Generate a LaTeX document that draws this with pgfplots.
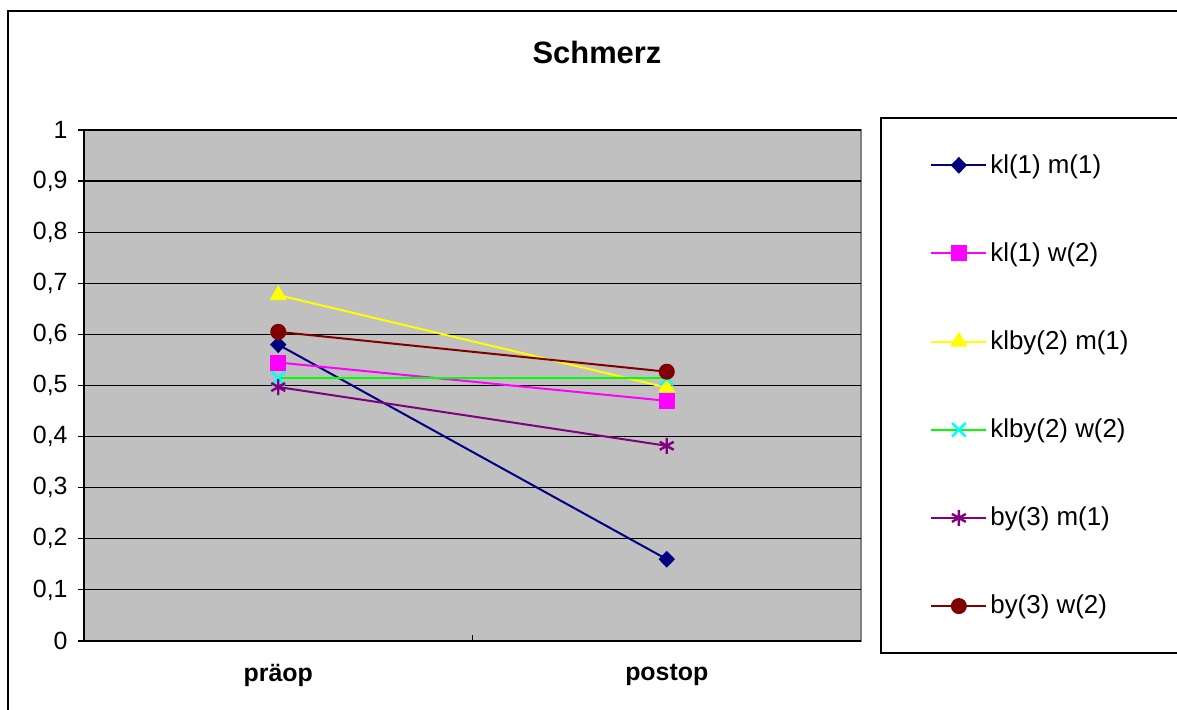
\documentclass[border=0pt]{standalone}
\usepackage{fontspec}
\setmainfont{Liberation Sans}
\usepackage{pgfplots}
\pgfplotsset{compat=1.18}
\definecolor{navyc}{HTML}{000080}
\definecolor{magc}{HTML}{FF00FF}
\definecolor{yelc}{HTML}{FFFF00}
\definecolor{grnc}{HTML}{00FF00}
\definecolor{cyac}{HTML}{00FFFF}
\definecolor{purc}{HTML}{800080}
\definecolor{marc}{HTML}{800000}
\definecolor{bgc}{HTML}{C0C0C0}
\begin{document}
\begin{tikzpicture}
\useasboundingbox (0,0) rectangle (588.5bp,355bp);
\fill[white] (0,0) rectangle (588.5bp,355bp);
\draw[line width=1bp] (4bp,-10bp) |- (620bp,349.5bp);
\node[font=\bfseries\fontsize{15.5}{18}\selectfont] at (298.5bp,329bp) {Schmerz};
\begin{axis}[
  at={(42bp,34.5bp)}, anchor=south west, scale only axis,
  width=388.5bp, height=255.5bp,
  xmin=-0.5, xmax=1.5, ymin=0, ymax=1,
  axis lines*=left,
  axis line style={line width=1bp, black},
  axis background/.style={fill=bgc, draw=gray, line width=1bp},
  ytick={0,0.1,0.2,0.3,0.4,0.5,0.6,0.7,0.8,0.9,1},
  ymajorgrids, major grid style={black, line width=0.6bp},
  /pgf/number format/use comma,
  /pgf/number format/fixed,
  /pgf/number format/precision=1,
  /pgf/number format/assume math mode=true,
  yticklabel style={font=\fontsize{12.5}{15}\selectfont, inner sep=0pt, xshift=-5bp},
  ytick style={black, line width=0.6bp},
  ytick align=outside, major tick length=3bp,
  xtick={0.5}, xticklabels={},
  xtick align=inside,
  xtick style={black, line width=0.6bp},
  extra x ticks={0,1}, extra x tick labels={präop,postop},
  extra x tick style={major tick length=0pt, xticklabel style={font=\bfseries\fontsize{12.5}{15}\selectfont, yshift=-8bp}},
  legend style={at={(1.0257,1.0235)}, anchor=north west, draw=none, fill=none,
    inner xsep=24.5bp, inner ysep=18bp, row sep=33.2bp, column sep=1.5bp,
    nodes={inner sep=0pt, font=\fontsize{13}{15}\selectfont}},
  legend cell align=left,
  legend image code/.code={\draw[mark repeat=2,mark phase=2,#1] plot coordinates {(0bp,0bp) (13.75bp,0bp) (27.5bp,0bp)};},
  every axis plot/.append style={line width=1bp},
  clip=false,
]
\addplot[navyc, mark=diamond*, mark size=3.5bp, mark options={fill=navyc, xscale=1.3}] coordinates {(0,0.580) (1,0.160)};
\addlegendentry{kl(1) m(1)}
\addplot[magc, mark=square*, mark size=3.5bp, mark options={fill=magc}] coordinates {(0,0.545) (1,0.470)};
\addlegendentry{kl(1) w(2)}
\addplot[yelc, mark=triangle*, mark size=4bp, mark options={fill=yelc}] coordinates {(0,0.677) (1,0.496)};
\addlegendentry{klby(2) m(1)}
\addplot[grnc, mark=x, mark size=4.8bp, mark options={draw=cyac, line width=1.2bp}] coordinates {(0,0.514) (1,0.514)};
\addlegendentry{klby(2) w(2)}
\addplot[purc, mark=asterisk, mark size=4bp, mark options={draw=purc, line width=1.2bp}] coordinates {(0,0.497) (1,0.382)};
\addlegendentry{by(3) m(1)}
\addplot[marc, mark=*, mark size=3.5bp, mark options={fill=marc}] coordinates {(0,0.605) (1,0.527)};
\addlegendentry{by(3) w(2)}
\end{axis}
\draw[line width=1bp] (620bp,28.5bp) -| (440.5bp,296bp) -- (620bp,296bp);
\end{tikzpicture}
\end{document}
